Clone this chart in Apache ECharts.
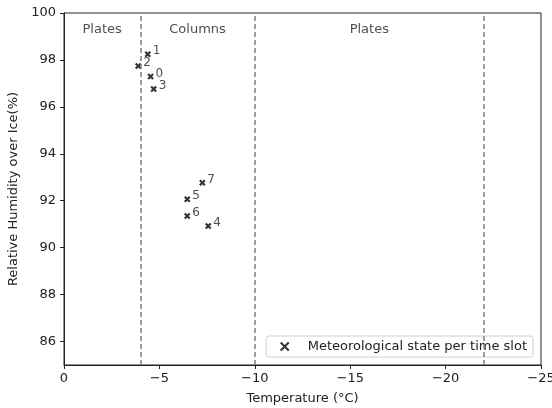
<!DOCTYPE html>
<html lang="en">
<head>
    <meta charset="UTF-8">
    <title>Habit diagram</title>
    <script src="https://cdn.jsdelivr.net/npm/echarts@6.0.0/dist/echarts.min.js"></script>
    <style>
        html, body { margin: 0; padding: 0; background: #fff; }
        #chart { width: 552px; height: 408px; }
    </style>
</head>
<body>
    <div id="chart"></div>
    <script>
    // time slot ids and their (temperature, RHi) state
    const slotIds = ['0', '1', '2', '3', '4', '5', '6', '7'];
    const temperature = [-4.54, -4.39, -3.89, -4.70, -7.56, -6.46, -6.46, -7.25];
    const humidity = [97.29, 98.24, 97.74, 96.76, 90.92, 92.06, 91.35, 92.77];

    // habit regime boundaries and labels
    const boundaries = [-4, -10, -22];
    const regimeNames = ['Plates', 'Columns', 'Plates'];
    const regimeX = [-2, -7, -16];
    const regimeY = 99.3;

    const yTicks = [86, 88, 90, 92, 94, 96, 98, 100];
    const xTicks = [0, -5, -10, -15, -20, -25];

    const font = 'DejaVu Sans';
    const minus = v => (v < 0 ? '\u2212' + Math.abs(v) : String(v));

    const points = temperature.map((t, i) => [t, humidity[i], slotIds[i]]);
    const regimes = regimeNames.map((n, i) => [regimeX[i], regimeY, n]);

    const chart = echarts.init(document.getElementById('chart'));
    chart.setOption({
        animation: false,
        textStyle: { fontFamily: font },
        grid: {
            left: 64, right: 11, top: 13, bottom: 43,
            outerBoundsMode: 'none',
            show: true, borderColor: '#222', borderWidth: 1
        },
        legend: {
            right: 19, bottom: 51,
            data: ['Meteorological state per time slot'],
            orient: 'vertical',
            itemWidth: 8, itemHeight: 8, itemGap: 0,
            padding: [4, 6, 4, 12],
            borderColor: '#d0d0d0', borderWidth: 1, borderRadius: 3,
            backgroundColor: 'rgba(255,255,255,0.8)',
            textStyle: { fontFamily: font, fontSize: 13, color: '#222', padding: [0, 0, 0, 14] }
        },
        xAxis: {
            type: 'value', inverse: true, min: -25, max: 0,
            name: 'Temperature (°C)', nameLocation: 'middle', nameGap: 27,
            nameTextStyle: { fontFamily: font, fontSize: 13, color: '#222' },
            splitLine: { show: false },
            axisLine: { onZero: false, lineStyle: { color: '#222' } },
            axisTick: { customValues: xTicks, length: 4, lineStyle: { color: '#222' } },
            axisLabel: { customValues: xTicks, formatter: minus, fontSize: 13, color: '#222', margin: 7 }
        },
        yAxis: {
            type: 'value', min: 85, max: 100,
            name: 'Relative Humidity over Ice(%)', nameLocation: 'middle', nameGap: 38,
            nameTextStyle: { fontFamily: font, fontSize: 13, color: '#222' },
            splitLine: { show: false },
            axisLine: { lineStyle: { color: '#222' } },
            axisTick: { customValues: yTicks, length: 4, lineStyle: { color: '#222' } },
            axisLabel: { customValues: yTicks, fontSize: 13, color: '#222', margin: 8 }
        },
        series: [
            {
                name: 'Meteorological state per time slot',
                type: 'scatter',
                data: points,
                symbol: 'path://M0,0 L10,10 M10,0 L0,10',
                symbolSize: 5,
                itemStyle: { color: 'none', borderColor: '#000', borderWidth: 2.2 },
                label: {
                    show: true, position: 'right', distance: 0, offset: [0, -3],
                    formatter: p => p.data[2],
                    fontFamily: font, fontSize: 12, color: '#222'
                },
                markLine: {
                    silent: true, symbol: 'none',
                    label: { show: false },
                    lineStyle: { type: [5, 3], color: '#7f7f7f', width: 1.5 },
                    data: boundaries.map(b => ({ xAxis: b }))
                },
                z: 3
            },
            {
                name: 'regimes',
                type: 'scatter',
                data: regimes,
                symbolSize: 0,
                silent: true,
                label: {
                    show: true, position: 'inside',
                    formatter: p => p.data[2],
                    fontFamily: font, fontSize: 13, color: '#222'
                }
            }
        ]
    });
    </script>
</body>
</html>
